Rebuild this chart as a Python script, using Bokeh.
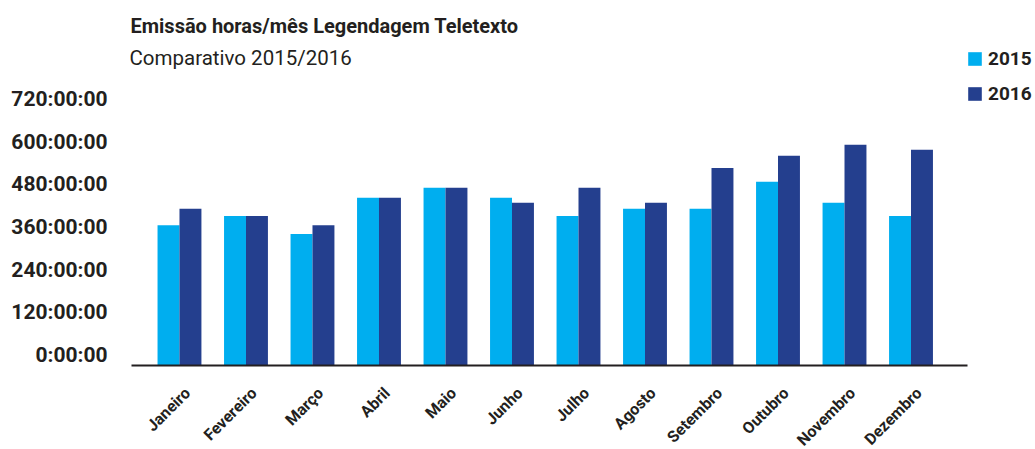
import math
from bokeh.plotting import figure
from bokeh.models import (ColumnDataSource, FixedTicker, Legend, LegendItem,
                          Label)
from bokeh.transform import dodge
from bokeh.core.properties import value
from bokeh.embed import file_html
from bokeh.resources import INLINE

months = ["Janeiro", "Fevereiro", "Março", "Abril", "Maio", "Junho",
          "Julho", "Agosto", "Setembro", "Outubro", "Novembro", "Dezembro"]
hours_2015 = [394, 420, 369, 471, 499, 471, 420, 440, 440, 516, 457, 420]
hours_2016 = [440, 420, 394, 471, 499, 457, 499, 457, 555, 589, 620, 606]
y_ticks = [0, 120, 240, 360, 480, 600, 720]
y_tick_labels = ["0:00:00", "120:00:00", "240:00:00", "360:00:00",
                 "480:00:00", "600:00:00", "720:00:00"]
series_names = ["2015", "2016"]
title_text = "Emissão horas/mês Legendagem Teletexto"
subtitle_text = "Comparativo 2015/2016"
colors = ["#00AEEF", "#243F8E"]

FONT = "Roboto"
TXT = "#231F20"
LABEL_SHIFT = 29  # tick labels sit slightly above their gridline value

xs = list(range(len(months)))
src = ColumnDataSource(dict(x=xs, a=hours_2015, b=hours_2016, m=months,
                            zero=[0] * len(xs)))

p = figure(width=1035, height=449, output_backend="svg", toolbar_location=None,
           x_range=(-0.917, 12.872), y_range=(-237, 1026),
           min_border_left=118, min_border_right=0, min_border_top=0,
           min_border_bottom=0)
p.outline_line_color = None
p.xgrid.visible = False
p.ygrid.visible = False
p.background_fill_color = "white"

r1 = p.vbar(x=dodge("x", -0.165), top="a", width=0.33, source=src,
            fill_color=colors[0], line_color=None)
r2 = p.vbar(x=dodge("x", 0.165), top="b", width=0.33, source=src,
            fill_color=colors[1], line_color=None)

# month labels, rotated, hanging below the baseline
p.text(x="x", y="zero", text="m", source=src, angle=math.pi / 4,
       text_align="right", text_baseline="middle", x_offset=8, y_offset=25,
       text_font=value(FONT), text_font_style="bold", text_font_size="16px",
       text_color=TXT)

# y axis
p.yaxis.ticker = FixedTicker(ticks=[t + LABEL_SHIFT for t in y_ticks])
p.yaxis.major_label_overrides = {t + LABEL_SHIFT: l
                                 for t, l in zip(y_ticks, y_tick_labels)}
p.yaxis.axis_line_color = None
p.yaxis.major_tick_line_color = None
p.yaxis.minor_tick_line_color = None
p.yaxis.major_tick_out = 0
p.yaxis.minor_tick_out = 0
p.yaxis.major_label_text_font = FONT
p.yaxis.major_label_text_font_style = "bold"
p.yaxis.major_label_text_font_size = "21px"
p.yaxis.major_label_text_color = TXT
p.yaxis.major_label_standoff = 11

# x axis: only the baseline at y = 0
p.xaxis.fixed_location = 0
p.xaxis.bounds = (-0.72, 11.85)
p.xaxis.ticker = FixedTicker(ticks=[])
p.xaxis.axis_line_color = TXT
p.xaxis.axis_line_width = 2
p.xaxis.major_tick_line_color = None
p.xaxis.minor_tick_line_color = None
p.xaxis.major_tick_out = 0
p.xaxis.minor_tick_out = 0
p.xaxis.major_label_text_font_size = "0px"
p.xaxis.major_label_standoff = 0

# titles
p.add_layout(Label(x=12, y=424, x_units="screen", y_units="screen",
                   text=title_text, text_font=FONT, text_font_style="bold",
                   text_font_size="20px", text_color=TXT,
                   text_baseline="alphabetic"))
p.add_layout(Label(x=11, y=392, x_units="screen", y_units="screen",
                   text=subtitle_text, text_font=FONT, text_font_style="normal",
                   text_font_size="20.5px", text_color=TXT,
                   text_baseline="alphabetic"))

legend = Legend(items=[LegendItem(label=series_names[0], renderers=[r1]),
                       LegendItem(label=series_names[1], renderers=[r2])],
                location=(848, 344), orientation="vertical",
                glyph_width=17, glyph_height=17, label_height=17,
                spacing=12, padding=0, margin=0,
                label_text_font=FONT, label_text_font_style="bold",
                label_text_font_size="19px", label_text_color=TXT,
                label_standoff=5, border_line_color=None,
                background_fill_alpha=0)
p.add_layout(legend, "center")

open("out.html", "w").write(file_html(p, INLINE))
